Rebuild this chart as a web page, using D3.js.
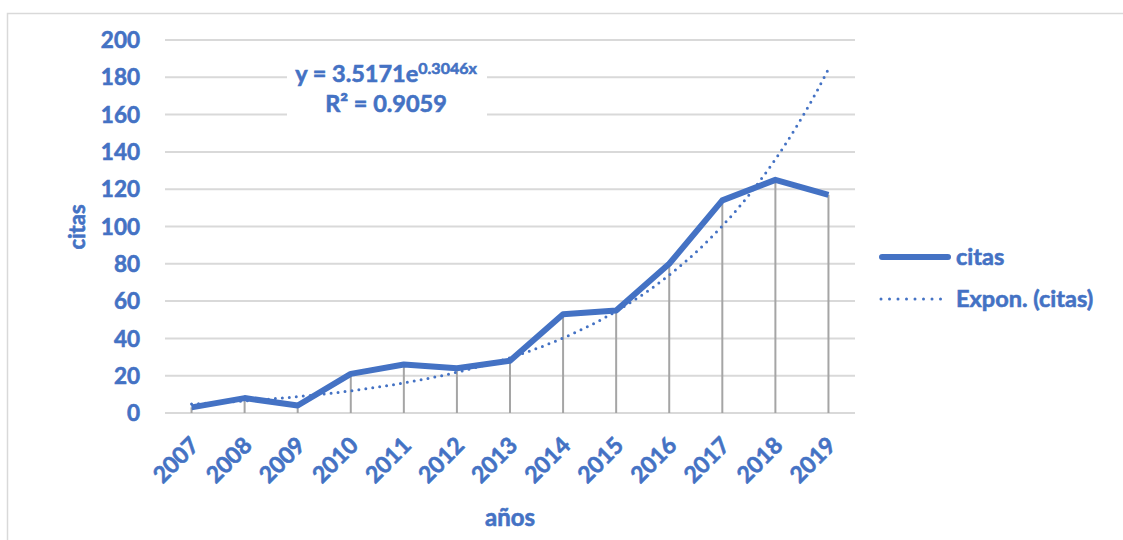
<!DOCTYPE html>
<html>
<head>
<meta charset="utf-8">
<script src="https://cdn.jsdelivr.net/npm/d3@7"></script>
<style>
  body { margin: 0; background: #fff; }
  text { font-family: Lato, "Open Sans", sans-serif; font-weight: bold; fill: #4472C4; stroke: #4472C4; stroke-width: 0.6px; }
</style>
</head>
<body>
<svg id="chart" width="1123" height="540"></svg>
<script>
var years = [ '2007', '2008', '2009', '2010', '2011', '2012', '2013', '2014', '2015', '2016', '2017', '2018', '2019' ];
var citas = [ 3, 8, 4, 21, 26, 24, 28, 53, 55, 80, 114, 125, 117 ];
var yTicks = [ 0, 20, 40, 60, 80, 100, 120, 140, 160, 180, 200 ];
// exponential trendline as shown on the chart
var trendA = 3.5171;
var trendB = 0.3046;

var blue = '#4472C4';
var svg = d3.select( '#chart' );

// chart border
svg.append( 'path' )
	.attr( 'd', 'M7.5,540 V13.5 H1123' )
	.attr( 'fill', 'none' )
	.attr( 'stroke', '#D9D9D9' )
	.attr( 'stroke-width', 1.5 );

var x = d3.scaleBand()
	.domain( years )
	.range( [ 165, 855 ] );

var y = d3.scaleLinear()
	.domain( [ 0, 200 ] )
	.range( [ 413, 40 ] );

var cx = function ( d ) { return x( d ) + x.bandwidth() / 2; };

// gridlines
svg.append( 'g' ).selectAll( 'line' )
	.data( yTicks )
	.enter()
	.append( 'line' )
	.attr( 'x1', 165 )
	.attr( 'x2', 855 )
	.attr( 'y1', function ( d ) { return y( d ); } )
	.attr( 'y2', function ( d ) { return y( d ); } )
	.attr( 'stroke', '#D9D9D9' )
	.attr( 'stroke-width', 2 );

// drop lines
svg.append( 'g' ).selectAll( 'line' )
	.data( years )
	.enter()
	.append( 'line' )
	.attr( 'x1', cx )
	.attr( 'x2', cx )
	.attr( 'y1', function ( d, i ) { return y( citas[i] ); } )
	.attr( 'y2', y( 0 ) )
	.attr( 'stroke', '#A5A5A5' )
	.attr( 'stroke-width', 2 );

// y tick labels
svg.append( 'g' ).selectAll( 'text' )
	.data( yTicks )
	.enter()
	.append( 'text' )
	.attr( 'x', 140 )
	.attr( 'y', function ( d ) { return y( d ); } )
	.attr( 'dy', '0.36em' )
	.attr( 'text-anchor', 'end' )
	.style( 'font-size', '22.5px' )
	.text( function ( d ) { return d; } );

// x tick labels
svg.append( 'g' ).selectAll( 'text' )
	.data( years )
	.enter()
	.append( 'text' )
	.attr( 'transform', function ( d ) {
		return 'translate(' + ( cx( d ) + 3 ) + ',441) rotate(-45)';
	} )
	.attr( 'dy', '0.36em' )
	.attr( 'text-anchor', 'end' )
	.style( 'font-size', '23px' )
	.text( function ( d ) { return d; } );

// axis titles
svg.append( 'text' )
	.attr( 'transform', 'translate(85,227) rotate(-90)' )
	.attr( 'text-anchor', 'middle' )
	.style( 'font-size', '22px' )
	.text( 'citas' );

svg.append( 'text' )
	.attr( 'x', 510 )
	.attr( 'y', 526 )
	.attr( 'text-anchor', 'middle' )
	.style( 'font-size', '24px' )
	.text( 'años' );

// trendline
var trendX = d3.scaleLinear()
	.domain( [ 1, years.length ] )
	.range( [ cx( years[0] ), cx( years[years.length - 1] ) ] );

var trendCurve = d3.range( 1, years.length + 0.001, 0.1 ).map( function ( t ) {
	return [ trendX( t ), y( trendA * Math.exp( trendB * t ) ) ];
} );

// main line
svg.append( 'path' )
	.datum( citas )
	.attr( 'd', d3.line()
		.x( function ( d, i ) { return cx( years[i] ); } )
		.y( function ( d ) { return y( d ); } ) )
	.attr( 'fill', 'none' )
	.attr( 'stroke', blue )
	.attr( 'stroke-width', 6 )
	.attr( 'stroke-linejoin', 'round' );

svg.append( 'path' )
	.datum( trendCurve )
	.attr( 'd', d3.line() )
	.attr( 'fill', 'none' )
	.attr( 'stroke', blue )
	.attr( 'stroke-width', 3 )
	.attr( 'stroke-linecap', 'round' )
	.attr( 'stroke-dasharray', '0 7' );

// equation label
svg.append( 'rect' )
	.attr( 'x', 287 )
	.attr( 'y', 58 )
	.attr( 'width', 200 )
	.attr( 'height', 66 )
	.attr( 'fill', '#fff' );

var eq = svg.append( 'text' )
	.attr( 'x', 386 )
	.attr( 'y', 82 )
	.attr( 'text-anchor', 'middle' )
	.style( 'font-size', '23.5px' );
eq.append( 'tspan' ).text( 'y = ' + trendA + 'e' );
eq.append( 'tspan' ).attr( 'dy', -8 ).style( 'font-size', '16px' ).text( trendB + 'x' );

svg.append( 'text' )
	.attr( 'x', 386 )
	.attr( 'y', 112 )
	.attr( 'text-anchor', 'middle' )
	.style( 'font-size', '23.5px' )
	.text( 'R² = 0.9059' );

// legend
var legend = svg.append( 'g' );
legend.append( 'line' )
	.attr( 'x1', 882 ).attr( 'x2', 948 )
	.attr( 'y1', 257 ).attr( 'y2', 257 )
	.attr( 'stroke', blue )
	.attr( 'stroke-width', 6 )
	.attr( 'stroke-linecap', 'round' );
legend.append( 'text' )
	.attr( 'x', 956 ).attr( 'y', 257 )
	.attr( 'dy', '0.36em' )
	.style( 'font-size', '23.5px' )
	.text( 'citas' );
legend.append( 'line' )
	.attr( 'x1', 881 ).attr( 'x2', 949 )
	.attr( 'y1', 299 ).attr( 'y2', 299 )
	.attr( 'stroke', blue )
	.attr( 'stroke-width', 3 )
	.attr( 'stroke-linecap', 'round' )
	.attr( 'stroke-dasharray', '0 8.5' );
legend.append( 'text' )
	.attr( 'x', 956 ).attr( 'y', 299 )
	.attr( 'dy', '0.36em' )
	.style( 'font-size', '23.5px' )
	.text( 'Expon. (citas)' );
</script>
</body>
</html>
